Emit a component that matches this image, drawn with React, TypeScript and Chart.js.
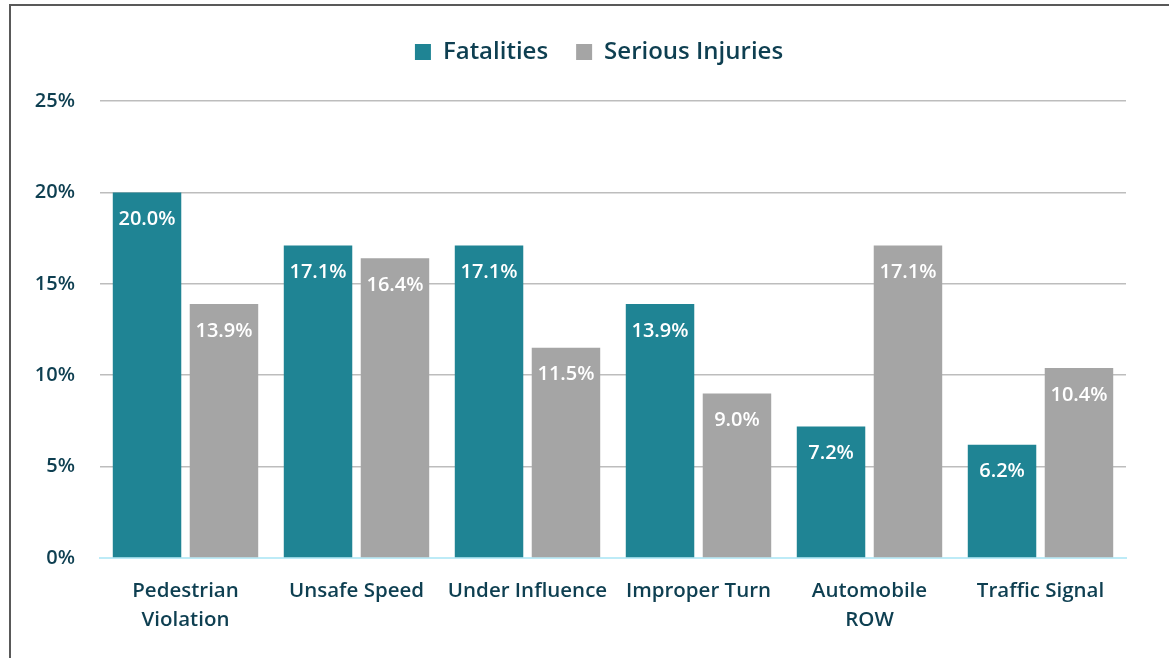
import React, { useEffect, useRef } from "react";
import { Chart, registerables } from "chart.js";

Chart.register(...registerables);

const categories: (string | string[])[] = [
  ["Pedestrian", "Violation"],
  "Unsafe Speed",
  "Under Influence",
  "Improper Turn",
  ["Automobile", "ROW"],
  "Traffic Signal",
];
const fatalities = [20.0, 17.1, 17.1, 13.9, 7.2, 6.2];
const seriousInjuries = [13.9, 16.4, 11.5, 9.0, 17.1, 10.4];
const seriesNames = ["Fatalities", "Serious Injuries"];
const yTicks = [0, 5, 10, 15, 20, 25];

const TEAL = "#1F8494";
const GRAY = "#A5A5A5";
const TEXT = "#0E3F51";
const FONT = "'Open Sans', 'Noto Sans', sans-serif";

const labelPlugin = {
  id: "barLabels",
  afterDatasetsDraw(chart: any) {
    const ctx = chart.ctx;
    ctx.save();
    ctx.font = `600 20px ${FONT}`;
    ctx.fillStyle = "#FFFFFF";
    ctx.textAlign = "center";
    ctx.textBaseline = "middle";
    chart.data.datasets.forEach((ds: any, di: number) => {
      const meta = chart.getDatasetMeta(di);
      meta.data.forEach((el: any, i: number) => {
        const v = ds.data[i];
        ctx.fillText(v.toFixed(1) + "%", el.x, el.y + 27);
      });
    });
    ctx.restore();
  },
};

const legendSpacer = {
  id: "legendSpacer",
  beforeInit(chart: any) {
    const lg = chart.legend;
    const origFit = lg.fit;
    lg.fit = function () {
      origFit.bind(lg)();
      this.height += 27;
    };
    const origDraw = lg.draw;
    lg.draw = function () {
      const ctx = chart.ctx;
      ctx.save();
      ctx.translate(36, 0);
      origDraw.bind(lg)();
      ctx.restore();
    };
  },
};

export default function App() {
  const ref = useRef<HTMLCanvasElement>(null);
  useEffect(() => {
    if (!ref.current) return;
    const chart = new Chart(ref.current, {
      type: "bar",
      data: {
        labels: categories,
        datasets: [
          { label: seriesNames[0], data: fatalities, backgroundColor: TEAL },
          { label: seriesNames[1], data: seriousInjuries, backgroundColor: GRAY },
        ],
      },
      options: {
        responsive: false,
        animation: false,
        layout: { padding: { top: 12, left: 0, right: 43, bottom: 0 } },
        datasets: { bar: { categoryPercentage: 0.9, barPercentage: 0.89 } },
        plugins: {
          legend: {
            position: "top",
            labels: {
              color: TEXT,
              font: { family: FONT, size: 24, weight: "600" },
              boxWidth: 16,
              boxHeight: 16,
              padding: 28,
            },
          },
          tooltip: { enabled: false },
        },
        scales: {
          x: {
            afterFit: (s: any) => {
              s.height = 100;
            },
            grid: { display: false },
            border: { display: true, color: "#BDEBF7", width: 2 },
            ticks: {
              color: TEXT,
              font: { family: FONT, size: 20.5, weight: "600", lineHeight: 1.41 },
              padding: 11,
              maxRotation: 0,
            },
          },
          y: {
            min: 0,
            max: 25,
            afterFit: (s: any) => {
              s.width = 100;
            },
            afterBuildTicks: (axis: any) => {
              axis.ticks = yTicks.map((v) => ({ value: v }));
            },
            grid: {
              drawTicks: false,
              color: (c: any) => (c.tick && c.tick.value === 0 ? "rgba(0,0,0,0)" : "#BDBDBD"),
              lineWidth: 1.5,
            },
            border: { display: false },
            ticks: {
              color: TEXT,
              font: { family: FONT, size: 20, weight: "600" },
              padding: 25,
              callback: (v: any) => v + "%",
            },
          },
        },
      },
      plugins: [labelPlugin, legendSpacer],
    });
    return () => chart.destroy();
  }, []);
  return (
    <>
      <div
        style={{
          position: "fixed",
          left: 9,
          top: 4,
          right: -20,
          bottom: -20,
          borderTop: "2px solid #595959",
          borderLeft: "2px solid #595959",
          background: "#fff",
        }}
      />
      <canvas
        ref={ref}
        width={1169}
        height={658}
        style={{ position: "fixed", left: 0, top: 0, width: 1169, height: 658 }}
      />
    </>
  );
}
